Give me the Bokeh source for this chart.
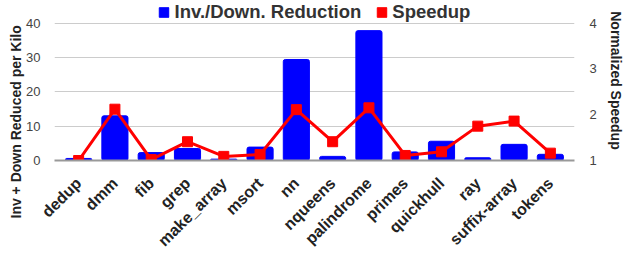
import math
from bokeh.plotting import figure
from bokeh.models import (Range1d, LinearAxis, FactorRange, Legend, LegendItem,
                          Title, FixedTicker)
from bokeh.embed import file_html
from bokeh.resources import INLINE

categories = ["dedup", "dmm", "fib", "grep", "make_array", "msort", "nn",
              "nqueens", "palindrome", "primes", "quickhull", "ray",
              "suffix-array", "tokens"]
reduction = [0.6, 13.0, 2.3, 3.5, 0.4, 3.9, 29.4, 1.2, 37.8, 2.5, 5.6, 0.8, 4.7, 1.8]
speedup = [1.0, 2.12, 1.02, 1.41, 1.09, 1.13, 2.11, 1.41, 2.15, 1.11, 1.19, 1.75, 1.86, 1.16]
left_ticks = [0, 10, 20, 30, 40]
right_ticks = [1, 2, 3, 4]

FONT = "Liberation Sans"

# extra head-room above 40 holds the legend inside the plot frame
LEFT_TOP = 46.57
RIGHT_TOP = 1 + LEFT_TOP * 3 / 40

p = figure(width=626, height=258,
           x_range=FactorRange(factors=categories, range_padding=0.165,
                               range_padding_units="absolute"),
           y_range=Range1d(0, LEFT_TOP),
           output_backend="svg", toolbar_location=None,
           min_border_left=54, min_border_top=0, min_border_right=43,
           min_border_bottom=95)
p.extra_y_ranges = {"speed": Range1d(1, RIGHT_TOP)}
p.outline_line_color = None
p.background_fill_color = "white"

bars = p.vbar(x=categories, top=reduction, width=0.72, color="#0000ff",
              border_radius=2)
p.line(x=categories, y=speedup, y_range_name="speed", color="#ff0000", line_width=3)
sq = p.scatter(x=categories, y=speedup, y_range_name="speed", marker="square",
               size=10, color="#ff0000")
# hidden renderer only used to give the legend a red square swatch
swatch = p.vbar(x=categories, top=speedup, y_range_name="speed", width=0.7,
                color="#ff0000", visible=False)

# axes
p.yaxis.ticker = FixedTicker(ticks=left_ticks)
p.ygrid.ticker = FixedTicker(ticks=left_ticks)
p.ygrid.grid_line_color = "#cccccc"
p.xgrid.visible = False

ra = LinearAxis(y_range_name="speed", ticker=FixedTicker(ticks=right_ticks),
                axis_label="Normalized Speedup")
p.add_layout(ra, "right")

for ax in [p.yaxis[0], ra]:
    ax.axis_line_color = None
    ax.major_tick_line_color = None
    ax.minor_tick_line_color = None
    ax.major_label_text_font = FONT
    ax.major_label_text_font_size = "13px"
    ax.major_label_text_color = "#444444"
p.yaxis[0].major_label_standoff = 8
ra.major_label_standoff = 9

ra.axis_label_text_font = FONT
ra.axis_label_text_font_size = "14px"
ra.axis_label_text_font_style = "bold"
ra.axis_label_text_color = "#222222"
ra.axis_label_standoff = 8

xa = p.xaxis[0]
xa.major_label_orientation = math.pi / 4
xa.major_label_text_font = FONT
xa.major_label_text_font_size = "16px"
xa.major_label_text_font_style = "bold"
xa.major_label_text_color = "#222222"
xa.major_tick_line_color = None
xa.minor_tick_line_color = None
xa.axis_line_color = "#999999"
xa.axis_line_width = 2
xa.major_label_standoff = 14

left_title = Title(text="Inv + Down Reduced per Kilo", align="left", offset=-58,
                   text_font=FONT, text_font_size="14px", text_font_style="bold",
                   text_color="#222222", standoff=0)
p.add_layout(left_title, "left")

legend = Legend(items=[LegendItem(label="Inv./Down. Reduction", renderers=[bars]),
                       LegendItem(label="Speedup", renderers=[swatch])],
                orientation="horizontal", location="top_center",
                label_text_font=FONT, label_text_font_size="18.5px",
                label_text_font_style="bold", label_text_color="#333333",
                glyph_width=12, glyph_height=12, label_standoff=5, spacing=14,
                padding=0, margin=1, border_line_color=None,
                background_fill_alpha=0, inactive_fill_alpha=0)
p.add_layout(legend)

open("out.html", "w").write(file_html(p, INLINE))
